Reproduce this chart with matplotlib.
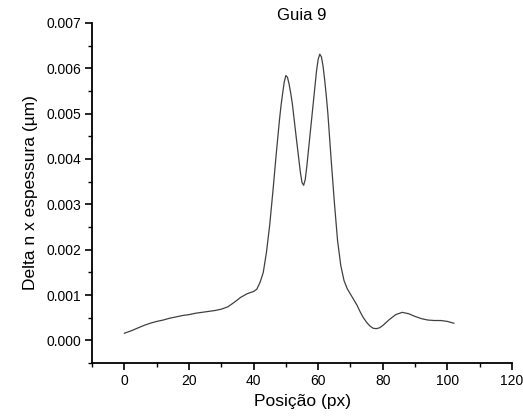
import matplotlib
matplotlib.use("Agg")
from matplotlib import pyplot as plt
from matplotlib.ticker import MultipleLocator

# posição (px) and delta n x espessura (µm)
posicao = [0, 2, 4, 6, 8, 10, 12, 14, 16, 18, 20, 22, 24, 26, 28, 30, 32, 34, 36, 38,
           40, 41, 42, 43, 44, 45, 46, 47, 48, 48.5, 49, 49.5, 50, 50.5, 51, 51.5, 52, 53,
           54, 54.5, 55, 55.5, 56, 56.5, 57, 58, 58.5, 59, 59.5, 60, 60.5, 61, 61.5, 62,
           62.5, 63, 64, 65, 66, 67, 68, 69, 70, 71, 72, 73, 74, 75, 76, 77, 78, 79,
           80, 82, 84, 86, 88, 90, 92, 94, 96, 98, 100, 102]
delta = [0.16, 0.21, 0.27, 0.33, 0.38, 0.42, 0.45, 0.49, 0.52, 0.55, 0.57, 0.60, 0.62, 0.64,
         0.66, 0.69, 0.74, 0.84, 0.95, 1.03,
         1.08, 1.13, 1.28, 1.50, 1.95, 2.55, 3.30, 4.10, 4.85, 5.18, 5.45, 5.70, 5.84, 5.80,
         5.65, 5.45, 5.22, 4.60,
         4.00, 3.70, 3.48, 3.42, 3.55, 3.85, 4.20, 4.90, 5.25, 5.60, 5.95, 6.20, 6.31, 6.25,
         6.05, 5.75,
         5.40, 5.00, 4.00, 3.05, 2.20, 1.65, 1.32, 1.14, 1.02, 0.90, 0.78, 0.63, 0.50, 0.40,
         0.32, 0.27, 0.26, 0.28,
         0.33, 0.46, 0.57, 0.62, 0.59, 0.53, 0.48, 0.45, 0.44, 0.44, 0.42, 0.38]
delta = [v * 1e-3 for v in delta]

plt.rcParams['font.family'] = ['Liberation Sans', 'DejaVu Sans']

fig = plt.figure(figsize=(5.23, 4.16), dpi=100)
ax = fig.add_axes([0.176, 0.127, 0.803, 0.818])

ax.plot(posicao, delta, color='#404040', lw=0.9)

ax.set_xlim(-10, 120)
ax.set_ylim(-0.0005, 0.007)
ax.xaxis.set_major_locator(MultipleLocator(20))
ax.xaxis.set_minor_locator(MultipleLocator(10))
ax.yaxis.set_major_locator(MultipleLocator(0.001))
ax.yaxis.set_minor_locator(MultipleLocator(0.0005))
ax.yaxis.set_major_formatter(plt.FormatStrFormatter('%.3f'))

for s in ['top', 'right']:
    ax.spines[s].set_visible(False)
for s in ['left', 'bottom']:
    ax.spines[s].set_linewidth(1.3)

ax.tick_params(which='major', direction='out', length=5, width=1.2, labelsize=10, pad=3)
ax.tick_params(which='minor', direction='out', length=3, width=1.0)

ax.set_xlabel('Posição (px)', fontsize=12.5, labelpad=4)
ax.set_ylabel('Delta n x espessura (µm)', fontsize=12.5, labelpad=6)
ax.set_title('Guia 9', fontsize=12, pad=2)

fig.savefig('out.png', dpi=100)
